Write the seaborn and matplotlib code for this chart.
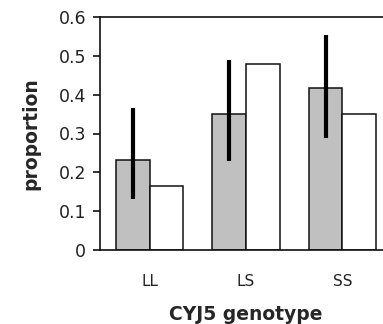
import matplotlib
matplotlib.use("Agg")
import matplotlib.pyplot as plt
import seaborn as sns
import pandas as pd

genotypes = ["LL", "LS", "SS"]
series_names = ["observed", "expected"]
observed = [0.232, 0.350, 0.416]
expected = [0.165, 0.479, 0.350]
err_low = [0.131, 0.229, 0.288]
err_high = [0.365, 0.489, 0.554]
yticks = [0, 0.1, 0.2, 0.3, 0.4, 0.5, 0.6]
ytick_labels = ["0", "0.1", "0.2", "0.3", "0.4", "0.5", "0.6"]

df = pd.DataFrame({
    "genotype": genotypes * 2,
    "series": [series_names[0]] * 3 + [series_names[1]] * 3,
    "proportion": observed + expected,
})

sns.set_style("white")
plt.rcParams["font.family"] = ["DejaVu Sans"]

fig = plt.figure(figsize=(3.83, 3.24), dpi=100)
ax = fig.add_axes([100 / 383, 74 / 324, 292 / 383, 233 / 324])

sns.barplot(data=df, x="genotype", y="proportion", hue="series",
            order=genotypes, hue_order=series_names,
            palette={"observed": "#c0c0c0", "expected": "white"},
            width=0.7, errorbar=None, edgecolor="#111111", linewidth=1.1,
            legend=False, ax=ax, saturation=1)

# error bars on grey bars
grey_patches = ax.patches[:3]
xs = [p.get_x() + p.get_width() / 2 for p in grey_patches]
ax.vlines(xs, err_low, err_high, colors="black", linewidth=3.0, zorder=5)

ax.set_xlim(-0.515, 2.515)
ax.set_ylim(0, 0.6)
ax.set_yticks(yticks)
ax.set_yticklabels(ytick_labels)
for s in ["top", "left", "bottom"]:
    ax.spines[s].set_visible(True)
    ax.spines[s].set_color("#111111")
    ax.spines[s].set_linewidth(1.2)
ax.spines["right"].set_visible(False)
ax.tick_params(axis="y", left=True, length=5, width=1.2, color="#111111",
               direction="out", labelsize=12.5, pad=5, labelcolor="#222222")
ax.tick_params(axis="x", bottom=False, labelsize=11, pad=14, labelcolor="#222222")
ax.set_xlabel("CYJ5 genotype", fontsize=13.5, fontweight="bold", labelpad=11)
ax.set_ylabel("proportion", fontsize=13.5, fontweight="bold", labelpad=13)

fig.savefig("out.png", dpi=100)
